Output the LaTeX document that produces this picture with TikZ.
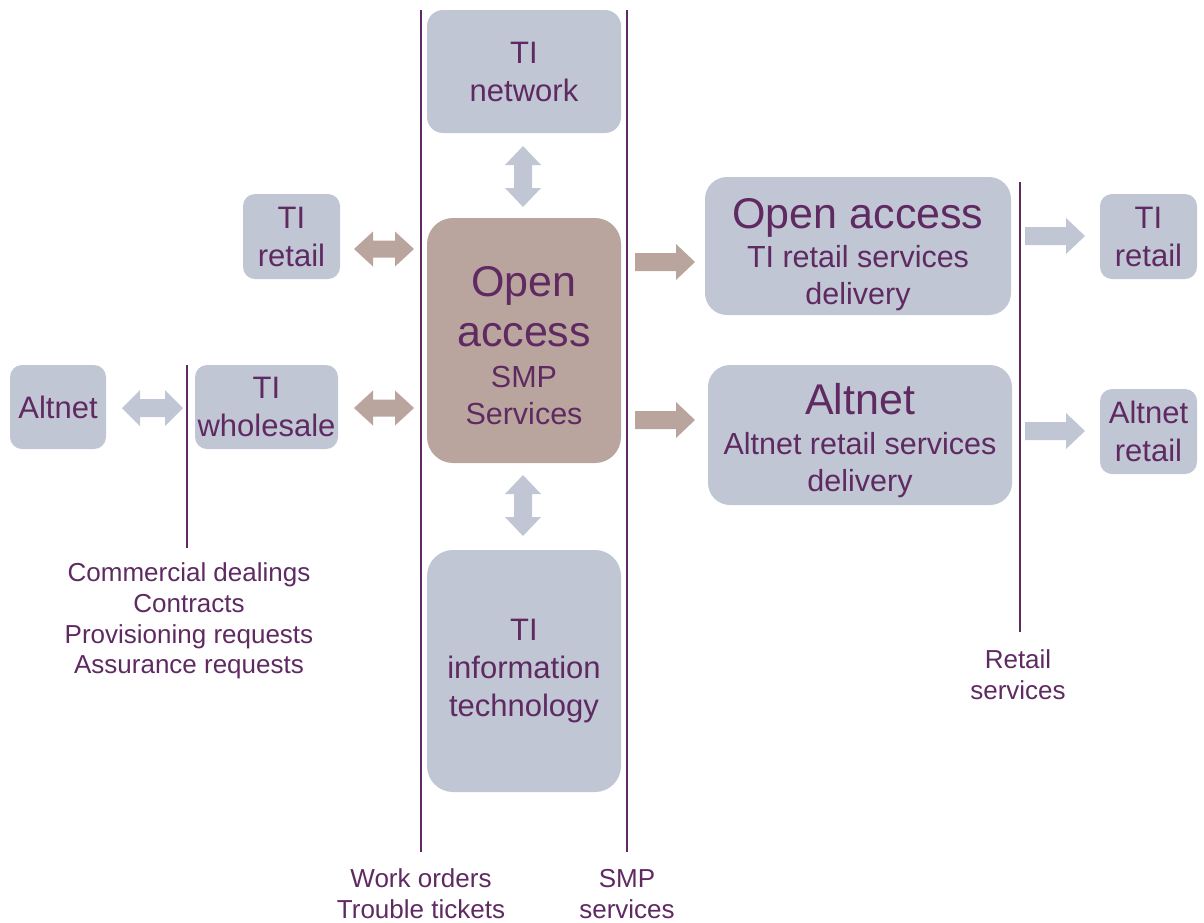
\documentclass[tikz,border=0pt]{standalone}
\usepackage{fontspec}
\setmainfont{Liberation Sans}
\definecolor{boxg}{HTML}{C0C6D3}
\definecolor{boxb}{HTML}{BAA59E}
\definecolor{txt}{HTML}{5F2A62}
\newcommand{\bigf}{\fontsize{43}{37}\selectfont}
\newcommand{\midf}{\fontsize{30.5}{37}\selectfont}
\begin{document}
\begin{tikzpicture}[x=1pt,y=-1pt,
  box/.style={fill=boxg, rounded corners=16pt, text=txt, align=center, inner sep=0pt,
    font=\fontsize{31}{38}\selectfont},
  btext/.style={text=txt, align=center, inner sep=0pt, font=\midf},
  vline/.style={draw=txt, line width=1.2pt},
  lab/.style={text=txt, align=center, inner sep=0pt, font=\fontsize{26}{30.7}\selectfont},
  garrow/.style={fill=boxg},
  barrow/.style={fill=boxb}]
\useasboundingbox (0,0) rectangle (1204,922);

% vertical separator lines
\draw[vline] (421,10) -- (421,852);
\draw[vline] (627,10) -- (627,852);
\draw[vline] (187,365) -- (187,548);
\draw[vline] (1020,182) -- (1020,632);

% boxes
\node[box, minimum width=194, minimum height=123] (net) at (524,71.5) {TI\\network};
\node[box, minimum width=97, minimum height=85, rounded corners=12pt] (tiretL) at (291.5,236.5) {TI\\retail};
\node[box, minimum width=96, minimum height=84, rounded corners=12pt] (altL) at (58,407) {Altnet};
\node[box, minimum width=143, minimum height=84, rounded corners=12pt] (whole) at (266.5,407) {TI\\wholesale};
\node[box, fill=boxb, rounded corners=26pt, minimum width=194, minimum height=245] (oa) at (524,340.5) {};
\node[btext] (oatext) at (524,346)
  {\bigf Open\\[13pt]\bigf access\\[4pt]\midf SMP\\\midf Services};
\node[box, rounded corners=26pt, minimum width=194, minimum height=242] (it) at (524,671)
  {TI\\information\\technology};
\node[box, rounded corners=22pt, minimum width=306, minimum height=138] (oar) at (858,246) {};
\node[btext] (oartext) at (858,254.5)
  {\bigf Open access\\[2pt]\midf TI retail services\\\midf delivery};
\node[box, rounded corners=22pt, minimum width=304, minimum height=140] (altr) at (860,435) {};
\node[btext] (altrtext) at (860,441)
  {\bigf Altnet\\[3pt]\midf Altnet retail services\\\midf delivery};
\node[box, minimum width=97, minimum height=85, rounded corners=12pt] (tiretR) at (1148.5,236.5) {TI\\retail};
\node[box, minimum width=97, minimum height=85, rounded corners=12pt] (altretR) at (1148.5,431.5) {Altnet\\retail};

% labels
\node[lab] (l1) at (189,621) {Commercial dealings\\Contracts\\Provisioning requests\\Assurance requests};
\node[lab] (l2) at (421,894) {Work orders\\Trouble tickets};
\node[lab] (l3) at (627,894) {SMP\\services};
\node[lab] (l4) at (1018,675) {Retail\\services};

% horizontal double arrows
\fill[barrow] (354,249) -- (373,231.5) -- (373,240.5) -- (395,240.5) -- (395,231.5) -- (414,249)
  -- (395,266.5) -- (395,257.5) -- (373,257.5) -- (373,266.5) -- cycle;
\fill[barrow] (354,408) -- (373,390.5) -- (373,399.5) -- (395,399.5) -- (395,390.5) -- (414,408)
  -- (395,425.5) -- (395,416.5) -- (373,416.5) -- (373,425.5) -- cycle;
\fill[garrow] (122,408) -- (140,390) -- (140,399) -- (165,399) -- (165,390) -- (183,408)
  -- (165,426) -- (165,417) -- (140,417) -- (140,426) -- cycle;
% vertical double arrows
\fill[garrow] (523,146) -- (541,165) -- (532,165) -- (532,188) -- (541,188) -- (523,207)
  -- (505,188) -- (514,188) -- (514,165) -- (505,165) -- cycle;
\fill[garrow] (523,475) -- (541,494) -- (532,494) -- (532,517) -- (541,517) -- (523,536)
  -- (505,517) -- (514,517) -- (514,494) -- (505,494) -- cycle;
% single arrows
\fill[barrow] (635,253) -- (676,253) -- (676,244) -- (695,262) -- (676,280) -- (676,271) -- (635,271) -- cycle;
\fill[barrow] (635,411) -- (676,411) -- (676,402) -- (695,420) -- (676,438) -- (676,429) -- (635,429) -- cycle;
\fill[garrow] (1025,227) -- (1066,227) -- (1066,218) -- (1085,236) -- (1066,254) -- (1066,245) -- (1025,245) -- cycle;
\fill[garrow] (1025,422) -- (1066,422) -- (1066,413) -- (1085,431) -- (1066,449) -- (1066,440) -- (1025,440) -- cycle;
\end{tikzpicture}
\end{document}
